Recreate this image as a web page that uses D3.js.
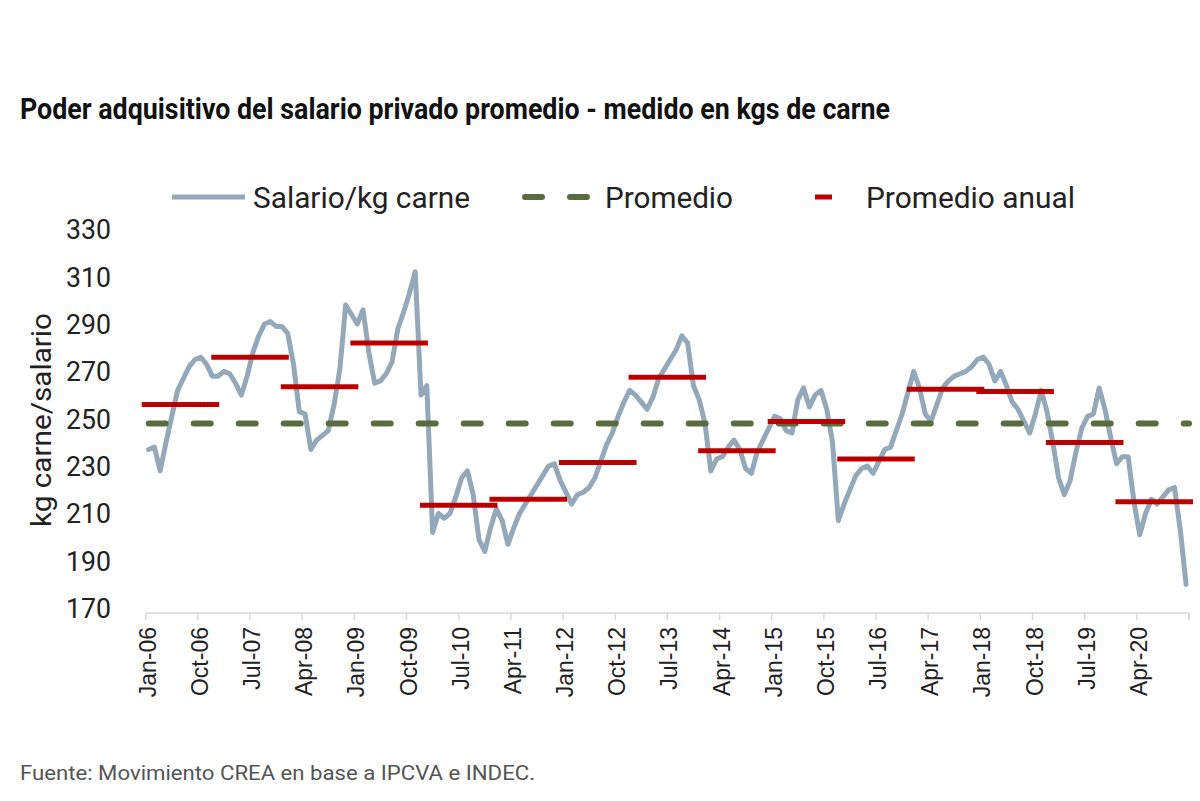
<!DOCTYPE html>
<html>
<head>
<meta charset="utf-8">
<script src="https://cdn.jsdelivr.net/npm/d3@7"></script>
<style>
  html, body { margin: 0; padding: 0; background: #ffffff; }
  svg { display: block; }
</style>
</head>
<body>
<div id="chart"></div>
<script>
// Salario promedio / kg de carne, mensual Jan-06 ... Dec-20
const salarioKg = [
  239, 240, 230, 242, 253, 264, 269, 274, 277, 278, 275, 270, // 2006
  270, 272, 271, 267, 262, 270, 280, 287, 292, 293, 291, 291, // 2007
  288, 275, 255, 254, 239, 243, 245, 247, 258, 273, 300, 296, // 2008
  292, 298, 280, 267, 268, 271, 276, 290, 297, 305, 314, 262, // 2009
  266, 204, 212, 210, 212, 219, 227, 230, 220, 201, 196, 206, // 2010
  214, 209, 199, 206, 212, 216, 220, 224, 228, 232, 233, 226, // 2011
  221, 216, 220, 221, 223, 227, 234, 241, 246, 253, 259, 264, // 2012
  262, 259, 256, 261, 269, 273, 277, 281, 287, 284, 266, 260, // 2013
  250, 230, 235, 236, 240, 243, 239, 231, 229, 238, 243, 248, // 2014
  253, 252, 247, 246, 260, 265, 257, 262, 264, 256, 242, 209, // 2015
  216, 222, 228, 231, 232, 229, 234, 239, 240, 247, 254, 263, // 2016
  272, 265, 254, 251, 258, 265, 268, 270, 271, 272, 274, 277, // 2017
  278, 275, 268, 272, 266, 259, 256, 251, 246, 254, 264, 255, // 2018
  242, 227, 220, 226, 238, 248, 253, 254, 265, 256, 244, 233, // 2019
  236, 236, 217, 203, 212, 218, 216, 219, 222, 223, 205, 182  // 2020
];

const anios = [2006, 2007, 2008, 2009, 2010, 2011, 2012, 2013, 2014, 2015, 2016, 2017, 2018, 2019, 2020];
const promedioAnual = [258, 278, 265.5, 284, 215.5, 218, 233.5, 269.5, 238.5, 250.8, 235, 264.5, 263.5, 242, 217];
const promedioTotal = 250;

const etiquetasX = [
  "Jan-06", "Oct-06", "Jul-07", "Apr-08", "Jan-09", "Oct-09", "Jul-10", "Apr-11", "Jan-12", "Oct-12",
  "Jul-13", "Apr-14", "Jan-15", "Oct-15", "Jul-16", "Apr-17", "Jan-18", "Oct-18", "Jul-19", "Apr-20"
];
const ticksY = [170, 190, 210, 230, 250, 270, 290, 310, 330];

const titulo = "Poder adquisitivo del salario privado promedio - medido en kgs de carne";
const fuente = "Fuente: Movimiento CREA en base a IPCVA e INDEC.";
const nombresSeries = ["Salario/kg carne", "Promedio", "Promedio anual"];

// colores
const COLOR_LINEA = "#93a8b8";
const COLOR_PROM = "#5a6b3e";
const COLOR_ANUAL = "#c00000";

const ancho = 1200, alto = 801;
const svg = d3.select("#chart").append("svg")
  .attr("width", ancho).attr("height", alto);

// escalas: una banda por mes (puntos al centro, ticks en los bordes)
const meses = d3.range(salarioKg.length);
const x = d3.scaleBand().domain(meses).range([145.7, 1189]).paddingInner(0).paddingOuter(0);
const bw = x.bandwidth();
const y = d3.scaleLinear().domain([170, 330]).range([613, 234]);

// título
svg.append("text")
  .attr("x", 20).attr("y", 119)
  .attr("textLength", 870).attr("lengthAdjust", "spacingAndGlyphs")
  .style("font-family", "Roboto, 'Noto Sans', sans-serif")
  .style("font-weight", "bold").style("font-size", "29px").style("fill", "#111")
  .text(titulo);

// eje Y (solo etiquetas)
const ejeY = svg.append("g").attr("transform", "translate(111,-4)")
  .call(d3.axisLeft(y).tickValues(ticksY).tickSize(0).tickPadding(0));
ejeY.select(".domain").remove();
ejeY.selectAll("text")
  .attr("textLength", 45).attr("lengthAdjust", "spacingAndGlyphs")
  .style("font-family", "Roboto, sans-serif").style("font-size", "27px").style("fill", "#222");

svg.append("text")
  .attr("transform", "translate(51,420) rotate(-90)")
  .attr("text-anchor", "middle")
  .attr("textLength", 214).attr("lengthAdjust", "spacingAndGlyphs")
  .style("font-family", "Roboto, sans-serif").style("font-size", "28px").style("fill", "#222")
  .text("kg carne/salario");

// eje X: línea base, ticks cada 9 meses
const ticksIdx = d3.range(0, salarioKg.length + 1, 9);
const xPos = i => (i >= salarioKg.length ? x.range()[1] : x(i));
const ejeX = svg.append("g");
ejeX.append("line")
  .attr("x1", x.range()[0]).attr("x2", x.range()[1])
  .attr("y1", y(170)).attr("y2", y(170))
  .attr("stroke", "#d9d9d9").attr("stroke-width", 1.5);
ejeX.selectAll("line.tick").data(ticksIdx.concat([salarioKg.length])).join("line")
  .attr("class", "tick")
  .attr("x1", d => xPos(d)).attr("x2", d => xPos(d))
  .attr("y1", y(170)).attr("y2", y(170) + 7)
  .attr("stroke", "#d9d9d9").attr("stroke-width", 1.5);
ejeX.selectAll("text").data(etiquetasX).join("text")
  .attr("transform", (d, i) => `translate(${x(i * 9) + 2},627) rotate(-90)`)
  .attr("text-anchor", "end").attr("dy", "0.35em")
  .style("font-family", "'Liberation Sans', Arial, sans-serif")
  .style("font-size", "23px").style("fill", "#222")
  .text(d => d);

// serie mensual
const linea = d3.line()
  .x((d, i) => x(i) + bw / 2)
  .y(d => y(d));
svg.append("path")
  .datum(salarioKg)
  .attr("d", linea)
  .attr("fill", "none")
  .attr("stroke", COLOR_LINEA).attr("stroke-width", 5)
  .attr("stroke-linejoin", "round").attr("stroke-linecap", "round");

// promedio general (línea punteada)
svg.append("line")
  .attr("x1", x.range()[0] + 3).attr("x2", x.range()[1])
  .attr("y1", y(promedioTotal)).attr("y2", y(promedioTotal))
  .attr("stroke", COLOR_PROM).attr("stroke-width", 6)
  .attr("stroke-linecap", "round").attr("stroke-dasharray", "17 28");

// promedios anuales (trazo rojo con textura de marcadores)
const anual = svg.append("g");
anual.selectAll("line.anual").data(promedioAnual).join("line")
  .attr("class", "anual")
  .attr("x1", (d, i) => x(i * 12) - 4)
  .attr("x2", (d, i) => x(i * 12 + 11) + bw + 4)
  .attr("y1", d => y(d)).attr("y2", d => y(d))
  .attr("stroke", COLOR_ANUAL).attr("stroke-width", 5);
anual.selectAll("line.textura").data(promedioAnual).join("line")
  .attr("class", "textura")
  .attr("x1", (d, i) => x(i * 12) - 2)
  .attr("x2", (d, i) => x(i * 12 + 11) + bw + 2)
  .attr("y1", d => y(d)).attr("y2", d => y(d))
  .attr("stroke", "#6e0000").attr("stroke-width", 1.4)
  .attr("stroke-dasharray", "1.5 2").attr("opacity", 0.55);

// leyenda
const leyenda = svg.append("g").attr("transform", "translate(0,197)");
leyenda.append("line").attr("x1", 172).attr("x2", 245)
  .attr("stroke", COLOR_LINEA).attr("stroke-width", 5);
leyenda.append("line").attr("x1", 525).attr("x2", 590)
  .attr("stroke", COLOR_PROM).attr("stroke-width", 6)
  .attr("stroke-linecap", "round").attr("stroke-dasharray", "17 28");
leyenda.append("line").attr("x1", 815).attr("x2", 832)
  .attr("stroke", COLOR_ANUAL).attr("stroke-width", 5);

const posLeyenda = [[253, 217], [605, 128], [866, 209]];
leyenda.selectAll("text").data(nombresSeries).join("text")
  .attr("x", (d, i) => posLeyenda[i][0]).attr("y", 11)
  .attr("textLength", (d, i) => posLeyenda[i][1]).attr("lengthAdjust", "spacingAndGlyphs")
  .style("font-family", "Roboto, sans-serif").style("font-size", "30px").style("fill", "#222")
  .text(d => d);

// fuente
svg.append("text")
  .attr("x", 20).attr("y", 780)
  .attr("textLength", 515).attr("lengthAdjust", "spacingAndGlyphs")
  .style("font-family", "Roboto, sans-serif").style("font-size", "21px").style("fill", "#555")
  .text(fuente);
</script>
</body>
</html>
